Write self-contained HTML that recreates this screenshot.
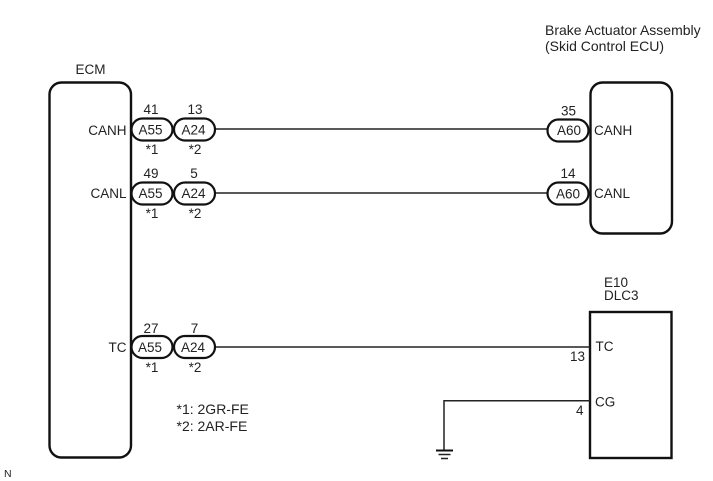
<!DOCTYPE html>
<html>
<head>
<meta charset="utf-8">
<style>
html,body{margin:0;padding:0;background:#fff}
svg{display:block}
text{font-family:"Liberation Sans",sans-serif;font-size:13.5px;fill:#222}
.m{text-anchor:middle}
.e{text-anchor:end}
.l{font-size:14px}
.b{fill:none;stroke:#111;stroke-width:2.4}
.p{fill:#fff;stroke:#111;stroke-width:2.2}
.w{fill:none;stroke:#222;stroke-width:1.5}
</style>
</head>
<body>
<svg width="713" height="481" viewBox="0 0 713 481" xmlns="http://www.w3.org/2000/svg">
<rect class="b" x="49.5" y="82.5" width="81.5" height="375" rx="12" ry="12"/>
<rect class="b" x="590.5" y="82.5" width="81.5" height="151" rx="12" ry="12"/>
<rect class="b" x="590" y="312" width="81.5" height="146"/>

<path class="w" d="M215 129H547M215 193H547M215 347H590M590 400.7H444V450"/>
<path d="M436 450.5H453" stroke="#111" stroke-width="2" fill="none"/>
<path d="M438.5 454.5H450.5" stroke="#222" stroke-width="1.5" fill="none"/>
<path d="M441 458.5H448" stroke="#222" stroke-width="1.5" fill="none"/>

<rect class="p" x="131.5" y="118.5" width="41" height="22" rx="11"/>
<rect class="p" x="174" y="118.5" width="41" height="22" rx="11"/>
<rect class="p" x="131.5" y="182.5" width="41" height="22" rx="11"/>
<rect class="p" x="174" y="182.5" width="41" height="22" rx="11"/>
<rect class="p" x="131.5" y="336" width="41" height="22" rx="11"/>
<rect class="p" x="174" y="336" width="41" height="22" rx="11"/>
<rect class="p" x="547.5" y="119.5" width="41" height="22" rx="11"/>
<rect class="p" x="547.5" y="182.5" width="41" height="22" rx="11"/>

<text class="m" x="90.5" y="74">ECM</text>
<text class="l" x="545" y="35">Brake Actuator Assembly</text>
<text class="l" x="545" y="51">(Skid Control ECU)</text>
<text x="604" y="287">E10</text>
<text x="604" y="300">DLC3</text>

<text class="e" x="126.5" y="135">CANH</text>
<text class="e" x="126.5" y="198">CANL</text>
<text class="e" x="126.5" y="352">TC</text>

<text class="m" x="151" y="114">41</text>
<text class="m" x="195" y="114">13</text>
<text class="m" x="151" y="178">49</text>
<text class="m" x="194" y="178">5</text>
<text class="m" x="151" y="333">27</text>
<text class="m" x="194.5" y="333">7</text>

<text class="m" x="150.5" y="134.5">A55</text>
<text class="m" x="193.5" y="134.5">A24</text>
<text class="m" x="150.5" y="198">A55</text>
<text class="m" x="193.5" y="198">A24</text>
<text class="m" x="150" y="352">A55</text>
<text class="m" x="193" y="352">A24</text>

<text class="m" x="152" y="154">*1</text>
<text class="m" x="195" y="154">*2</text>
<text class="m" x="152" y="218">*1</text>
<text class="m" x="195" y="218">*2</text>
<text class="m" x="152" y="372">*1</text>
<text class="m" x="195" y="372">*2</text>

<text class="m" x="568.5" y="115.5">35</text>
<text class="m" x="568" y="178">14</text>
<text class="m" x="569" y="135">A60</text>
<text class="m" x="568" y="198.5">A60</text>
<text x="594" y="135">CANH</text>
<text x="594" y="198">CANL</text>

<text x="595.5" y="351">TC</text>
<text x="595" y="406.5">CG</text>
<text class="e" x="585" y="361">13</text>
<text class="e" x="583.5" y="415">4</text>

<text class="l" x="176.5" y="414">*1: 2GR-FE</text>
<text class="l" x="176.5" y="431">*2: 2AR-FE</text>
<text x="4" y="477" style="font-size:10.5px">N</text>
</svg>
</body>
</html>
